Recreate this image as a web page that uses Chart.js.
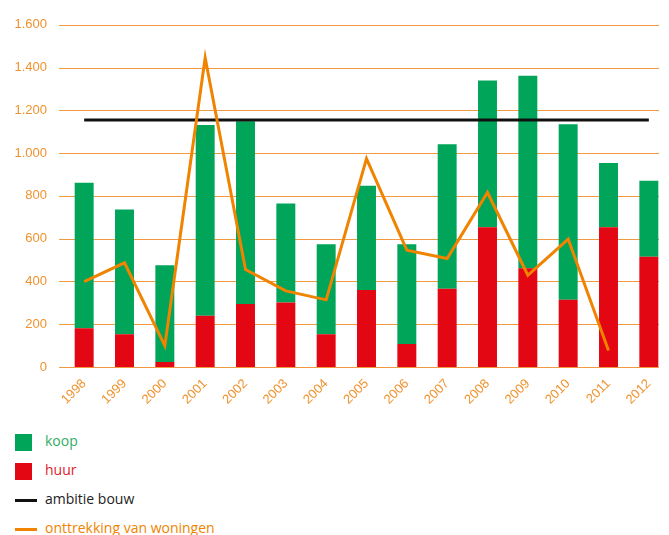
<!DOCTYPE html>
<html>
<head>
<meta charset="utf-8">
<script src="https://cdn.jsdelivr.net/npm/chart.js@4/dist/chart.umd.min.js"></script>
<style>
    body { margin: 0; background: #fff; width: 669px; height: 535px; overflow: hidden; position: relative; }
    #chart { position: absolute; left: 0; top: 0; }
    .legend-item { position: absolute; left: 15px; height: 20px; font-family: "Open Sans", sans-serif; font-size: 14px; line-height: 20px; }
    .legend-item .swatch { position: absolute; left: 0; }
    .legend-item span { position: absolute; left: 30px; white-space: nowrap; }
</style>
</head>
<body>
<canvas id="chart" width="669" height="420"></canvas>

<div class="legend-item" style="top: 431px;">
    <div class="swatch" style="top: 3px; width: 17px; height: 17px; background: #00a55a;"></div>
    <span style="color: #2fae65;">koop</span>
</div>
<div class="legend-item" style="top: 460px;">
    <div class="swatch" style="top: 3px; width: 17px; height: 17px; background: #e30613;"></div>
    <span style="color: #e2202b;">huur</span>
</div>
<div class="legend-item" style="top: 489px;">
    <div class="swatch" style="top: 10px; width: 22px; height: 3px; background: #111;"></div>
    <span style="color: #222;">ambitie bouw</span>
</div>
<div class="legend-item" style="top: 518px;">
    <div class="swatch" style="top: 10px; width: 22px; height: 3px; background: #f08300;"></div>
    <span style="color: #f08300;">onttrekking van woningen</span>
</div>

<script>
const jaren = ['1998', '1999', '2000', '2001', '2002', '2003', '2004', '2005', '2006', '2007', '2008', '2009', '2010', '2011', '2012'];
const huur = [181, 153, 23, 240, 295, 301, 153, 360, 107, 366, 654, 462, 315, 654, 515];
const koop = [680, 583, 453, 892, 854, 463, 421, 487, 467, 676, 685, 900, 820, 300, 356];
const onttrekking = [399, 487, 100, 1446, 456, 356, 314, 974, 546, 507, 816, 429, 598, 77, null];
const ambitieBouw = [1155, 1155, 1155, 1155, 1155, 1155, 1155, 1155, 1155, 1155, 1155, 1155, 1155, 1155, 1155];
const yTicks = [0, 200, 400, 600, 800, 1000, 1200, 1400, 1600];

const oranje = '#f0922e';

const formatNL = (v) => String(v).replace(/\B(?=(\d{3})+(?!\d))/g, '.');

// horizontal grid lines, a bit wider than the plot like the original
const gridPlugin = {
    id: 'oranjeGrid',
    beforeDatasetsDraw(chart) {
        const { ctx, chartArea, scales } = chart;
        ctx.save();
        ctx.strokeStyle = '#f29a42';
        ctx.lineWidth = 1;
        yTicks.forEach(t => {
            const y = Math.round(scales.y.getPixelForValue(t)) + 0.5;
            ctx.beginPath();
            ctx.moveTo(chartArea.left - 5, y);
            ctx.lineTo(chartArea.right - 10, y);
            ctx.stroke();
        });
        ctx.restore();
    }
};

new Chart(document.getElementById('chart').getContext('2d'), {
    type: 'bar',
    data: {
        labels: jaren,
        datasets: [
            {
                type: 'line',
                label: 'onttrekking van woningen',
                data: onttrekking,
                borderColor: '#f08300',
                borderWidth: 3,
                pointRadius: 0,
                tension: 0,
                stack: 'onttrekking',
                order: 0
            },
            {
                type: 'line',
                label: 'ambitie bouw',
                data: ambitieBouw,
                borderColor: '#111',
                borderWidth: 3,
                pointRadius: 0,
                stack: 'ambitie',
                order: 1
            },
            {
                label: 'huur',
                data: huur,
                backgroundColor: '#e30613',
                stack: 'bouw',
                categoryPercentage: 1,
                barPercentage: 0.47,
                order: 2
            },
            {
                label: 'koop',
                data: koop,
                backgroundColor: '#00a55a',
                stack: 'bouw',
                categoryPercentage: 1,
                barPercentage: 0.47,
                order: 2
            }
        ]
    },
    options: {
        responsive: false,
        animation: false,
        layout: { padding: { top: 21, right: 0, bottom: 0, left: 0 } },
        scales: {
            x: {
                stacked: true,
                grid: { display: false, drawTicks: false },
                border: { display: false },
                ticks: {
                    color: oranje,
                    font: { family: 'Liberation Sans', size: 13 },
                    maxRotation: 45,
                    minRotation: 45,
                    padding: 9
                },
                afterFit: s => { s.height = 53; }
            },
            y: {
                stacked: true,
                min: 0,
                max: 1600,
                grid: { display: false, drawTicks: false },
                border: { display: false },
                ticks: {
                    stepSize: 200,
                    color: oranje,
                    font: { family: 'Liberation Sans', size: 13 },
                    padding: 17,
                    callback: v => formatNL(v)
                },
                afterFit: s => { s.width = 64; }
            }
        },
        plugins: {
            legend: { display: false },
            tooltip: { enabled: false }
        }
    },
    plugins: [gridPlugin]
});
</script>
</body>
</html>
